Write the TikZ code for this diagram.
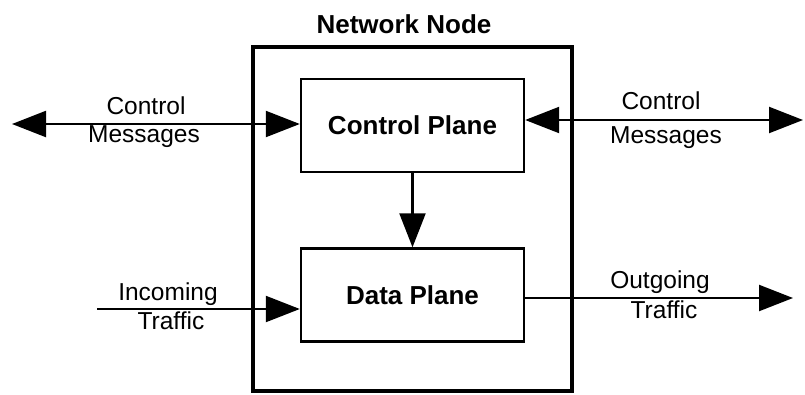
\documentclass[tikz,border=0pt]{standalone}
\usepackage{fontspec}
\setmainfont{Liberation Sans}
\usetikzlibrary{arrows.meta}
\begin{document}
\begin{tikzpicture}[line cap=butt,line join=miter,>={Triangle[length=34pt,width=26pt]},x=1pt,y=-1pt,
  plane/.style={draw,line width=2.4pt,minimum width=223pt,minimum height=93pt,font=\fontsize{26}{30}\selectfont\bfseries},
  lbl/.style={font=\fontsize{24.5}{28}\selectfont,anchor=base,inner sep=0pt},
  flow/.style={line width=2.2pt}]
\useasboundingbox (0,0) rectangle (805,394);
\node[draw,line width=4.5pt,minimum width=319pt,minimum height=344pt] (netnode) at (412.5,219) {};
\node[font=\fontsize{26}{30}\selectfont\bfseries] (title) at (404,24) {Network Node};
\node[plane] (ctrl) at (412.5,125.5) {Control Plane};
\node[plane] (data) at (412.5,295) {Data Plane};
\coordinate (cmL) at (12,124);
\coordinate (cmR) at (803,120);
\coordinate (inL) at (97,309);
\coordinate (outR) at (793,298);
\draw[flow,<->] (cmL) -- (cmL -| ctrl.west);
\draw[flow,<->] (cmR -| ctrl.east) -- (cmR);
\draw[flow,->] (inL) -- (inL -| data.west);
\draw[flow,->] (data.east |- outR) -- (outR);
\draw[flow,->] (ctrl.south) -- (data.north);
\node[lbl] (cmLtop) at (146,114) {Control};
\node[lbl] (cmLbot) at (144,142) {Messages};
\node[lbl] (cmRtop) at (661,109) {Control};
\node[lbl] (cmRbot) at (666,143) {Messages};
\node[lbl] (intop) at (168,300) {Incoming};
\node[lbl] (inbot) at (171,329) {Traffic};
\node[lbl] (outtop) at (660,288) {Outgoing};
\node[lbl] (outbot) at (664,318) {Traffic};
\end{tikzpicture}
\end{document}
